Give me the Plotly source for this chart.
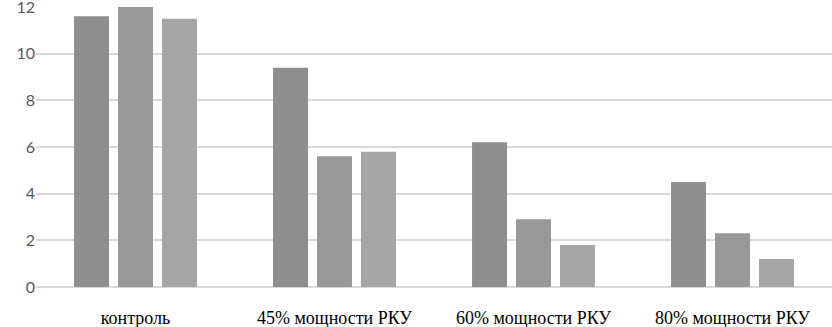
import plotly.graph_objects as go

categories = ["контроль", "45% мощности РКУ", "60% мощности РКУ", "80% мощности РКУ"]
series1 = [11.6, 9.4, 6.2, 4.5]
series2 = [12.0, 5.6, 2.9, 2.3]
series3 = [11.5, 5.8, 1.8, 1.2]
tick_vals = [0, 2, 4, 6, 8, 10, 12]

colors = ["#8e8e8e", "#989898", "#a5a5a5"]

fig = go.Figure()
for name, vals, c in zip(["s1", "s2", "s3"], [series1, series2, series3], colors):
    fig.add_trace(go.Bar(x=categories, y=vals, name=name, marker=dict(color=c, line=dict(width=0))))

fig.update_layout(
    width=832, height=327,
    margin=dict(l=36, r=0, t=7, b=40),
    barmode="group",
    bargap=0.337,
    bargroupgap=0.205,
    showlegend=False,
    plot_bgcolor="white",
    paper_bgcolor="white",
    xaxis=dict(
        showgrid=False, showline=False, automargin=False,
        ticks="outside", ticklen=14, tickcolor="rgba(0,0,0,0)",
        tickfont=dict(family="Liberation Serif, Times New Roman, serif", size=18, color="#000000"),
    ),
    yaxis=dict(
        range=[0, 12.001], tickvals=tick_vals, showgrid=True, gridcolor="#d9d9d9", gridwidth=1.5,
        zeroline=True, zerolinecolor="#d9d9d9", zerolinewidth=1.5,
        showline=False, ticks="", automargin=False, ticklabeloverflow="allow",
        tickfont=dict(family="Lato", size=16, color="#595959"),
    ),
)
fig.write_html("out.html", config={"displayModeBar": False},
               post_script="document.body.style.margin='0';document.body.style.overflow='hidden';")
